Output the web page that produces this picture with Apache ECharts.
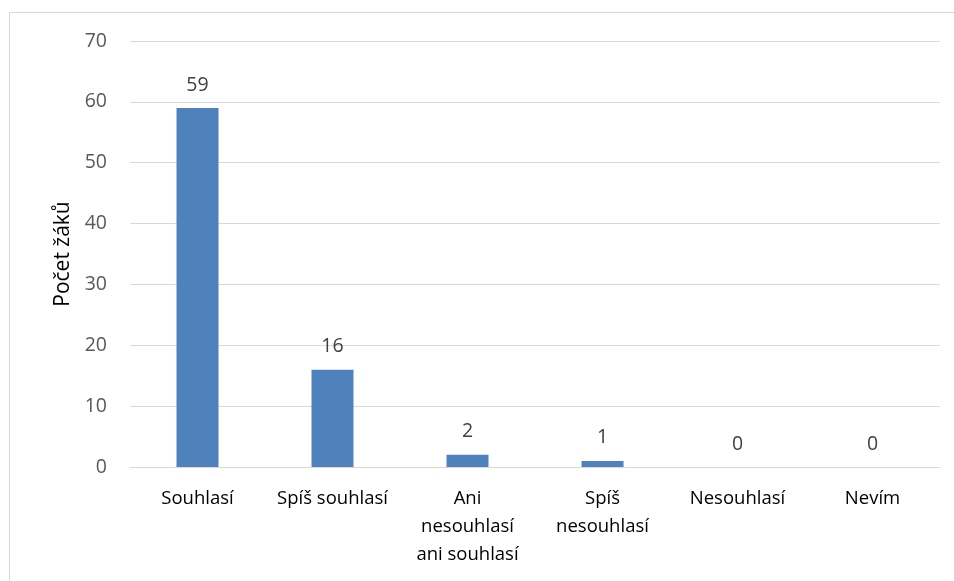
<!DOCTYPE html>
<html>
<head>
<meta charset="utf-8">
<script src="https://cdn.jsdelivr.net/npm/echarts@6/dist/echarts.min.js"></script>
<style>
  html, body { margin: 0; padding: 0; background: #fff; }
  #frame { position: absolute; left: 9px; top: 12px; width: 960px; height: 600px; border: 1px solid #d9d9d9; }
  #chart { position: absolute; left: 0; top: 0; width: 954px; height: 581px; }
</style>
</head>
<body>
<div id="frame"></div>
<div id="chart"></div>
<script>
// categories (x axis) and their displayed tick labels
const categories = ['Souhlasí', 'Spíš souhlasí', 'Ani nesouhlasí ani souhlasí', 'Spíš nesouhlasí', 'Nesouhlasí', 'Nevím']
const tickLabels = ['Souhlasí', 'Spíš souhlasí', 'Ani\nnesouhlasí\nani souhlasí', 'Spíš\nnesouhlasí', 'Nesouhlasí', 'Nevím']
// number of pupils
const counts = [59, 16, 2, 1, 0, 0]

const chart = echarts.init(document.getElementById('chart'))
chart.setOption({
  animation: false,
  textStyle: { fontFamily: 'Open Sans' },
  grid: { left: 130, right: 14, top: 41, bottom: 114 },
  xAxis: {
    type: 'category',
    data: categories,
    axisLine: { lineStyle: { color: '#d9d9d9' } },
    axisTick: { show: false },
    axisLabel: {
      color: '#000',
      fontSize: 18.5,
      lineHeight: 28,
      margin: 18,
      interval: 0,
      formatter: (v, i) => tickLabels[i]
    }
  },
  yAxis: {
    type: 'value',
    min: 0,
    max: 70,
    interval: 10,
    name: 'Počet žáků',
    nameLocation: 'middle',
    nameRotate: 90,
    nameGap: 42,
    nameTextStyle: { color: '#000', fontSize: 21 },
    axisLine: { show: false },
    axisTick: { show: false },
    axisLabel: { color: '#595959', fontSize: 19.5, margin: 23 },
    splitLine: { lineStyle: { color: '#d9d9d9', width: 1 } }
  },
  series: [
    {
      type: 'bar',
      data: counts,
      barWidth: 42,
      itemStyle: { color: '#4f81bd' },
      label: {
        show: true,
        position: 'top',
        distance: 13,
        color: '#404040',
        fontSize: 19.5
      }
    }
  ]
})
</script>
</body>
</html>
